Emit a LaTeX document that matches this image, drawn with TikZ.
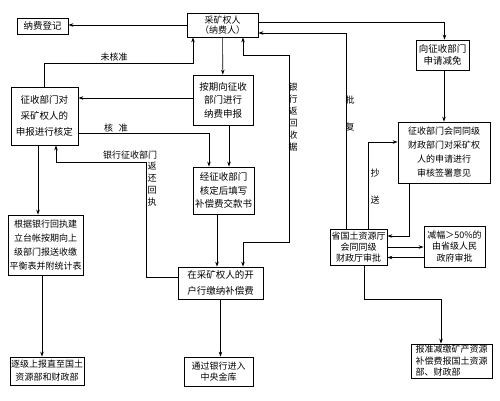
\documentclass[tikz,border=0pt]{standalone}
\usepackage{fontspec}
\setmainfont{Noto Sans CJK SC}
\usetikzlibrary{arrows.meta}
\usetikzlibrary{positioning}
\tikzset{
    box/.style={draw, line width=0.8pt, align=center, inner sep=0pt},
    tag/.style={inner sep=0pt, align=center, font=\fontsize{9}{12}\selectfont},
}

\begin{document}
\begin{tikzpicture}[x=1pt, y=-1pt, >={Stealth[length=5pt,width=3.5pt]}, line width=0.6pt]
            \useasboundingbox (0,0) rectangle (500,400);

            % Left column
            \node[box, minimum width=51pt, minimum height=16pt, font=\fontsize{9.5}{12}\selectfont] (reg) at (42.5,26) {纳费登记};
            \node[box, minimum width=67pt, minimum height=58pt, font=\fontsize{9.5}{16}\selectfont] (verify) at (44.5,116) {征收部门对\\采矿权人的\\申报进行核定};
            \node[box, minimum width=75pt, minimum height=60pt, font=\fontsize{9}{14}\selectfont] (ledger) at (45.5,245) {根据银行回执建\\立台帐按期向上\\级部门报送收缴\\平衡表并附统计表};
            \node[box, minimum width=74pt, minimum height=28pt, font=\fontsize{9}{13}\selectfont] (report) at (47,371) {逐级上报直至国土\\资源部和财政部};

            % Middle column
            \node[box, minimum width=71pt, minimum height=24pt, font=\fontsize{9}{10}\selectfont] (owner) at (222.5,25) {采矿权人\\（纳费人）};
            \node[box, minimum width=60pt, minimum height=50pt, font=\fontsize{9.5}{13.5}\selectfont] (declare) at (223,100) {按期向征收\\部门进行\\纳费申报};
            \node[box, minimum width=61pt, minimum height=47pt, font=\fontsize{9.5}{13.5}\selectfont] (fill) at (223.5,190.5) {经征收部门\\核定后填写\\补偿费交款书};
            \node[box, minimum width=85pt, minimum height=32pt, font=\fontsize{9.5}{16}\selectfont] (pay) at (220.5,283) {在采矿权人的开\\户行缴纳补偿费};
            \node[box, minimum width=69pt, minimum height=29pt, font=\fontsize{9}{11.5}\selectfont] (treasury) at (218.5,371.5) {通过银行进入\\中央金库};

            % Right column
            \node[box, minimum width=53pt, minimum height=30pt, font=\fontsize{9.5}{12}\selectfont] (apply) at (442.5,55) {向征收部门\\申请减免};
            \node[box, minimum width=92pt, minimum height=61pt, font=\fontsize{9}{14}\selectfont] (review) at (444,152.5) {征收部门会同同级\\财政部门对采矿权\\人的申请进行\\审核签署意见};
            \node[box, minimum width=57pt, minimum height=36pt, font=\fontsize{9}{11}\selectfont] (approve) at (358.5,247) {省国土资源厅\\会同同级\\财政厅审批};
            \node[box, minimum width=61pt, minimum height=41pt, font=\fontsize{9}{11.5}\selectfont] (province) at (454.5,246.5) {减幅＞50\%的\\由省级人民\\政府审批};
            \node[box, minimum width=81pt, minimum height=34pt, align=left, inner xsep=2pt, font=\fontsize{9}{11.5}\selectfont] (final) at (451.5,361) {报准减缴矿产资源\\补偿费报国土资源\\部、财政部};

            % Labels
            \node[tag] (nopass) at (114,57) {未核准};
            \node[tag] (pass) at (116,128) {核\hspace{6pt}准};
            \node[tag] (bankdept) at (130,155) {银行征收部门};
            \node[tag] (returnreceipt) at (152,184.5) {返\\还\\回\\执};
            \node[tag] (bankreceipt) at (293,117) {银\\行\\返\\回\\收\\据};
            \node[tag, font=\fontsize{9}{27}\selectfont] (reply) at (350,113.5) {批\\复};
            \node[tag, font=\fontsize{9}{27}\selectfont] (copy) at (375,186.5) {抄\\送};

            % Relationships
            \draw[->] (owner.west) -- (owner.west -| reg.east);
            \draw[->] ([yshift=3pt]owner.east) -| ([xshift=2pt]apply.north);
            \draw[->] ([xshift=-12.5pt]approve.north) |- ([yshift=-8pt]owner.east);
            \draw[->] (owner) -- (declare);
            \draw[->] (verify.north) -- (verify.north |- 0,63) -| ([xshift=-29.5pt]owner.south);
            \draw[->] ([yshift=2pt]declare.west) -- ([yshift=2pt]declare.west -| verify.east);
            \draw[->] ([yshift=-17pt]verify.east) -| ([xshift=-14.5pt]fill.north);
            \draw[->] ([xshift=6pt]declare.south) -- ([xshift=6pt]declare.south |- fill.north);
            \draw[->] ([yshift=6pt]pay.west) -| (146,162) -| ([xshift=11.5pt]verify.south);
            \draw[<->] ([xshift=20.5pt]owner.south) |- (289,55) |- (243,242) -- ([xshift=22.5pt]pay.north);
            \draw[->] ([xshift=-6.5pt]fill.south) -- ([xshift=-6.5pt]fill.south |- pay.north);
            \draw[->] (pay.south) -- (pay.south |- treasury.north);
            \draw[->] ([xshift=-6.5pt]verify.south) -- ([xshift=-6.5pt]verify.south |- ledger.north);
            \draw[->] ([xshift=-3.5pt]ledger.south) -- ([xshift=-3.5pt]ledger.south |- report.north);
            \draw[->] ([xshift=1.5pt]apply.south) -- ([xshift=1.5pt]apply.south |- review.north);
            \draw[->] ([xshift=-35pt]review.south) |- ([yshift=11pt]approve.east);
            \draw[->] ([xshift=9.5pt]approve.north) |- ([yshift=10.5pt]review.west);
            \draw[->] (approve.east) -- (approve.east -| province.west);
            \draw[->] ([yshift=-11pt]province.west) -- ([yshift=-11pt]province.west -| approve.east);
            \draw[->] ([xshift=5.5pt]approve.south) |- (441,299) -- ([xshift=-10.5pt]final.north);

        \end{tikzpicture}
\end{document}
